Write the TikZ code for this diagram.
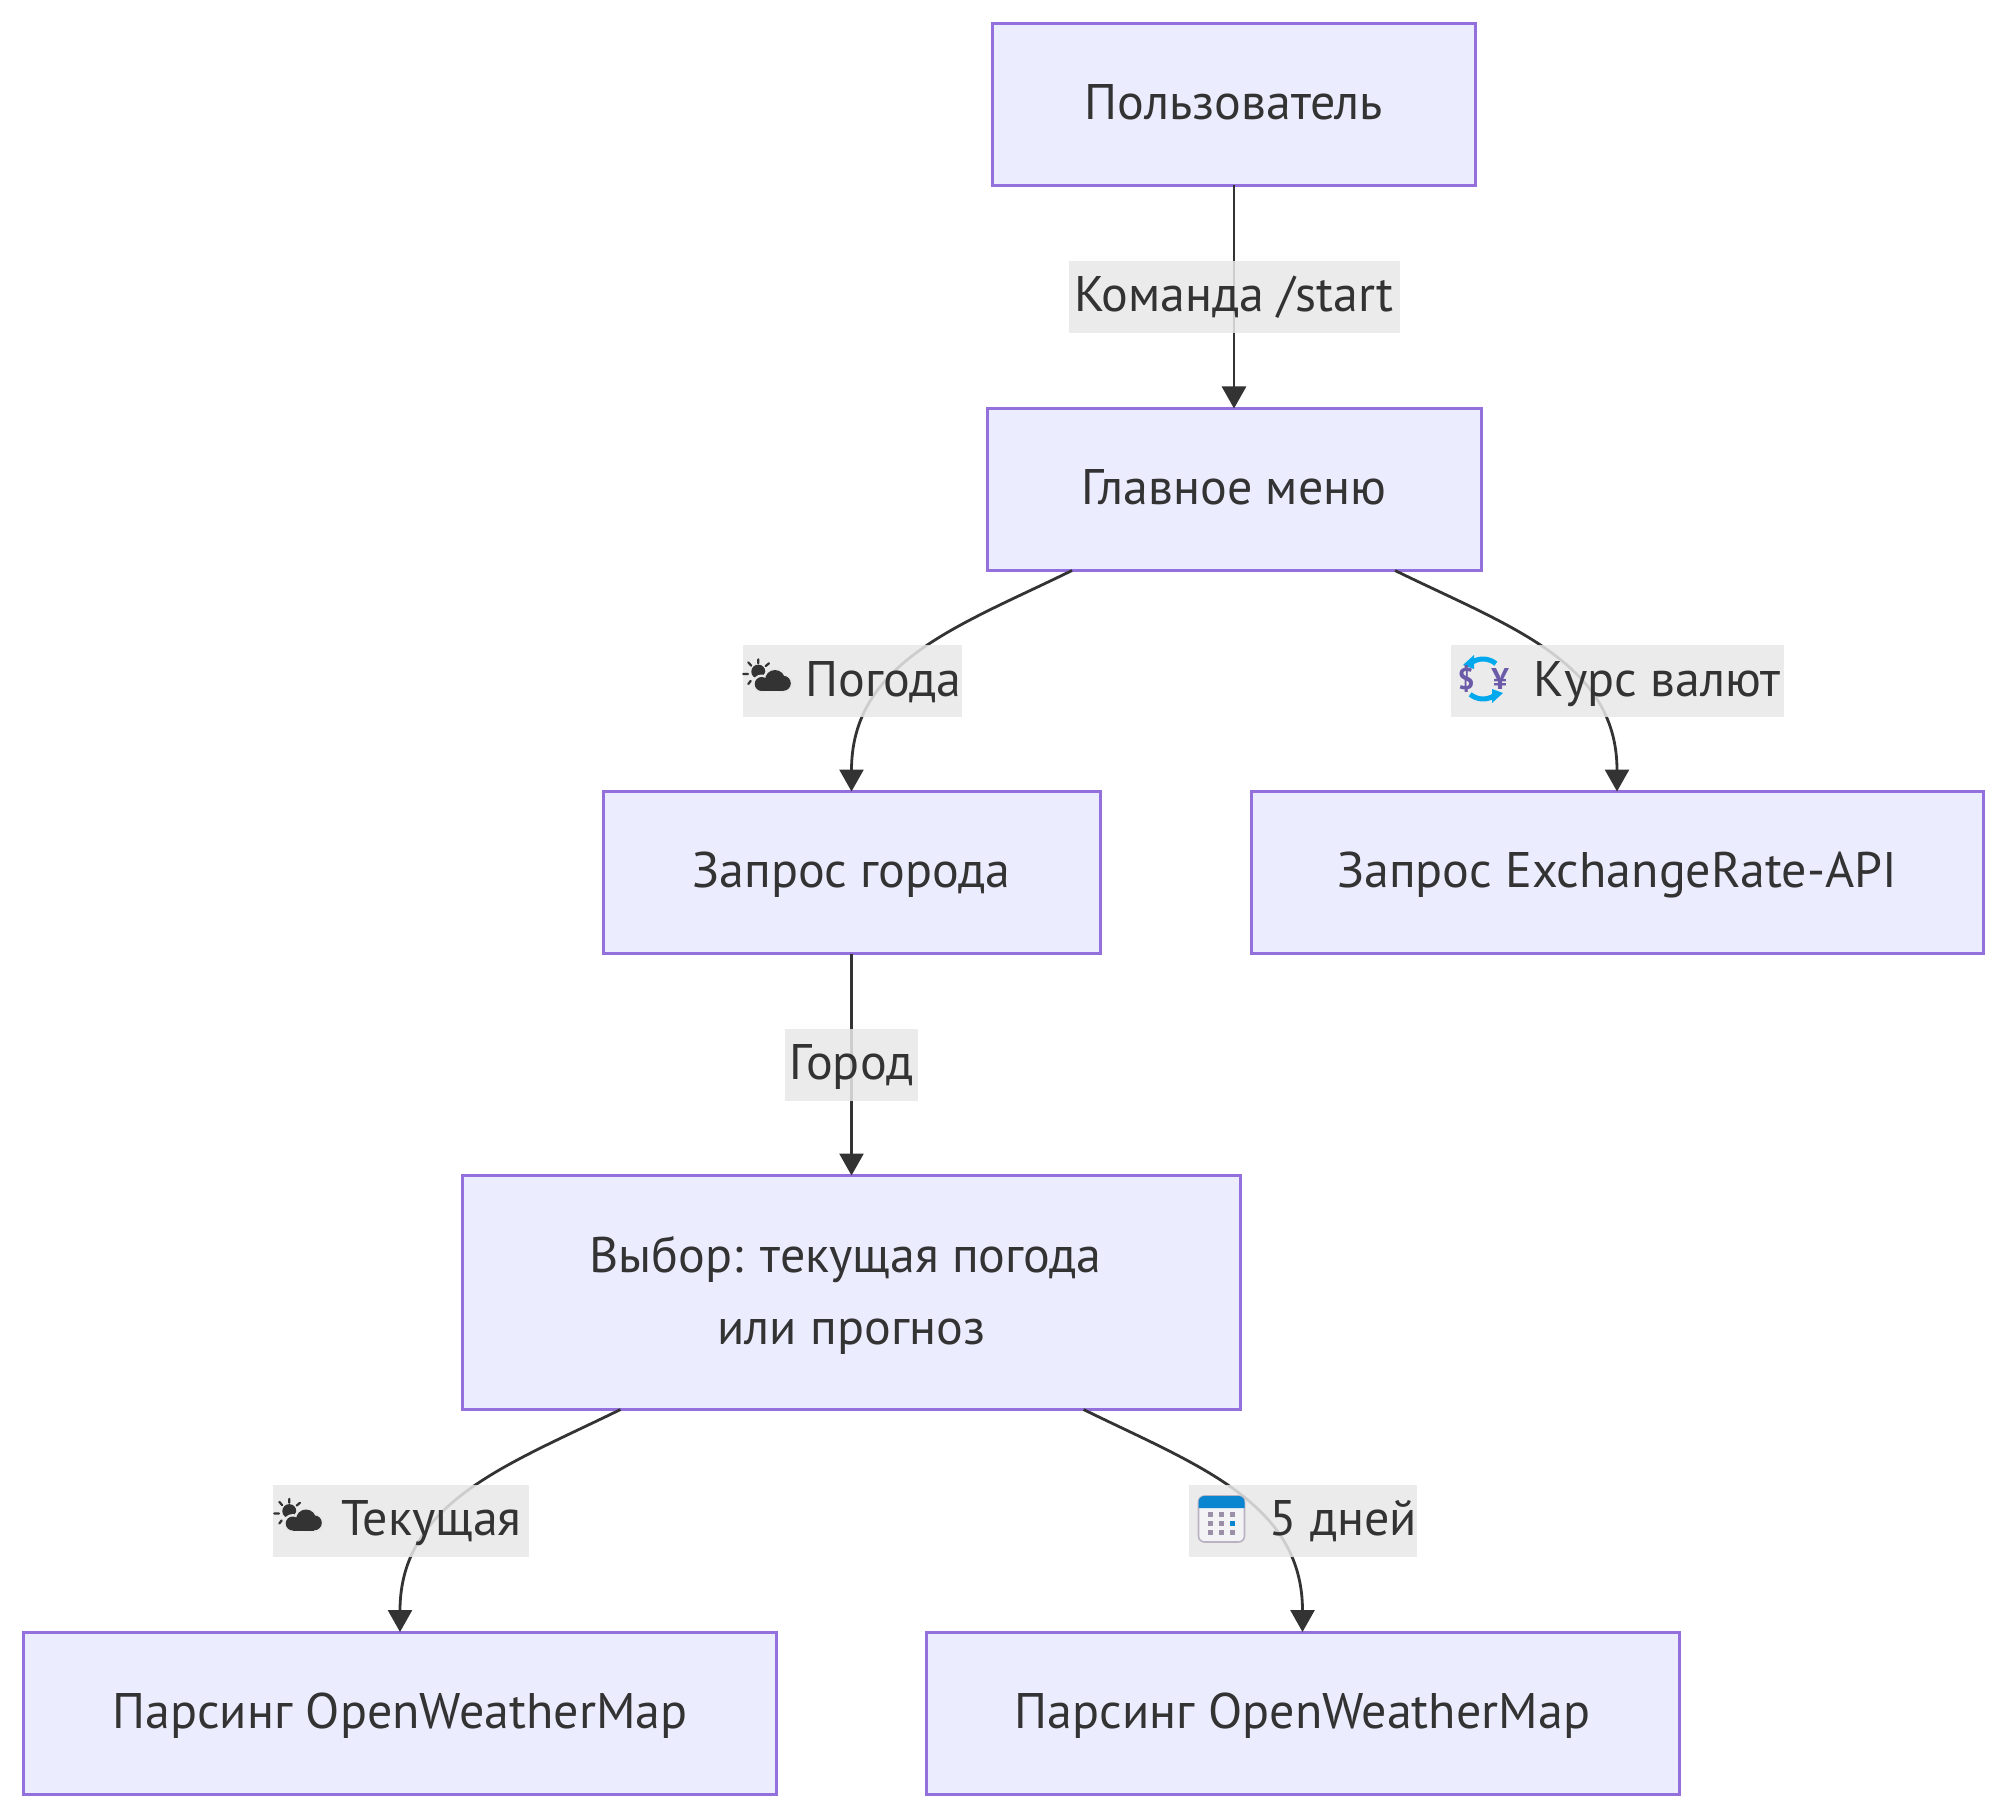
\documentclass[tikz,border=0pt]{standalone}
\usepackage{fontspec}
\setmainfont{PT Sans}
\usetikzlibrary{arrows.meta}
\usetikzlibrary{shapes}

\definecolor{boxfill}{HTML}{ECECFF}
\definecolor{boxline}{HTML}{9370DB}
\definecolor{ink}{HTML}{333333}
\definecolor{lblfill}{HTML}{E8E8E8}
\definecolor{swapblue}{HTML}{00A8EE}
\definecolor{swapink}{HTML}{6A5AA8}
\definecolor{calblue}{HTML}{0A86D0}
\definecolor{calgrey}{HTML}{9C8FA8}

\tikzset{
  box/.style={draw=boxline,fill=boxfill,line width=1.5pt,text=ink,inner sep=0pt,outer sep=0pt,
    minimum height=81pt,align=center,font=\fontsize{25}{36}\selectfont},
  oneline/.style={text height=18pt,text depth=3pt},
  lbl/.style={fill=lblfill,fill opacity=.85,text opacity=1,text=ink,inner sep=0pt,outer sep=0pt,
    minimum height=36pt,oneline,font=\fontsize{25}{36}\selectfont},
  flow/.style={draw=ink,line width=1.4pt},
  sunicon/.pic={
    \fill[ink] (-8.7,-3.7) circle (7);
    \draw[-,ink,line width=1.1pt,line cap=round]
      (-8.7,-16) -- (-8.7,-12) (-18.7,-13) -- (-15.8,-9.6) (-23.7,-1.3) -- (-19,-1.3)
      (-18.7,8.7) -- (-16.3,5.6) (2,-12) -- (-1.4,-9.2);
    \fill[lblfill] (8,4.7) circle (12.5) (-5.3,8.7) circle (9.5) (16.3,8) circle (10);
    \fill[ink] (8,4.7) circle (10) (-5.3,8.7) circle (7) (16.3,8) circle (7.5);
    \fill[ink] (-5.3,8) rectangle (16.3,15.7);
  },
  swapicon/.pic={
    \draw[-,swapblue,line width=2.5pt] (0,0) ++(310:20) arc (310:240:20);
    \draw[-,swapblue,line width=2.5pt] (0,0) ++(130:20) arc (130:60:20);
    \fill[swapblue] (-9,-24) -- (-9,-10) -- (-20,-14) -- cycle;
    \fill[swapblue] (9,24) -- (9,10) -- (20,14) -- cycle;
    \node[text=swapink,font=\bfseries\fontsize{15}{15}\selectfont] (dollar) at (-17,0) {\$};
    \node[text=swapink,font=\bfseries\fontsize{15}{15}\selectfont] (yen) at (17,0) {¥};
  },
  calicon/.pic={
    \fill[draw=calgrey!70,fill=calgrey!12,line width=.8pt,rounded corners=3pt] (-23,-23) rectangle (23,23);
    \fill[calblue] (-23,-11) [rounded corners=3pt] -- (-23,-23) -- (23,-23) [sharp corners] -- (23,-11) -- cycle;
    \foreach \x in {-11,0,11} \foreach \y in {-5,4,13}
      \fill[calgrey] (\x-2.5,\y-2.5) rectangle (\x+2.5,\y+2.5);
    \fill[calblue] (8.5,1.5) rectangle (13.5,6.5);
  }
}

\begin{document}
\begin{tikzpicture}[->,>={Triangle[length=11pt,width=12pt]},x=.5pt,y=-.5pt]
  \useasboundingbox (0,0) rectangle (2007,1818);

  \node[box,oneline,minimum width=241.5pt] (user) at (1234,104.5) {Пользователь};
  \node[box,oneline,minimum width=247pt] (menu)   at (1234,489.5)   {Главное меню};
  \node[box,oneline,minimum width=248.5pt] (city) at (851.5,872.5)  {Запрос города};
  \node[box,oneline,minimum width=366pt] (rates)  at (1617,872.5)   {Запрос ExchangeRate-API};
  \node[box,minimum width=389pt,minimum height=117pt] (choice) at (851.5,1292.5)
    {\rule{0pt}{21pt}Выбор: текущая погода\hspace{6pt}\null\\или прогноз};
  \node[box,oneline,minimum width=376.5pt] (parsenow)  at (400,1713)  {Парсинг OpenWeatherMap};
  \node[box,oneline,minimum width=376.5pt] (parsefive) at (1302.5,1713) {Парсинг OpenWeatherMap};

  \path (user) edge[flow] node[lbl,minimum width=165.5pt] {Команда /start} (menu)
        (city) edge[flow] node[lbl,minimum width=66.5pt] {Город} (choice);

  \draw[flow] ([xshift=-81pt]menu.south) .. controls +(-112,55) and +(0,-130) .. (city.north);
  \draw[flow] ([xshift=80.5pt]menu.south) .. controls +(112,55) and +(0,-130) .. (rates.north);
  \draw[flow] ([xshift=-115.5pt]choice.south) .. controls +(-112,55) and +(0,-130) .. (parsenow.north);
  \draw[flow] ([xshift=116pt]choice.south) .. controls +(112,55) and +(0,-130) .. (parsefive.north);

  \node[lbl,minimum width=109.5pt] (lblweather) at (852.5,681) {\hspace{31pt}Погода};
  \node[lbl,minimum width=166.5pt] (lblrates) at (1617.5,681) {\hspace{39.5pt}Курс валют};
  \node[lbl,minimum width=128pt] (lblnow) at (401,1520.5) {\hspace{30.5pt}Текущая};
  \node[lbl,minimum width=114pt] (lblfive) at (1303,1520.5) {\hspace{40.5pt}5 дней};

  \pic at (767,675.3) {sunicon};
  \pic at (298,1514.8) {sunicon};
  \pic at (1483,679) {swapicon};
  \pic at (1221.5,1519) {calicon};
\end{tikzpicture}
\end{document}
